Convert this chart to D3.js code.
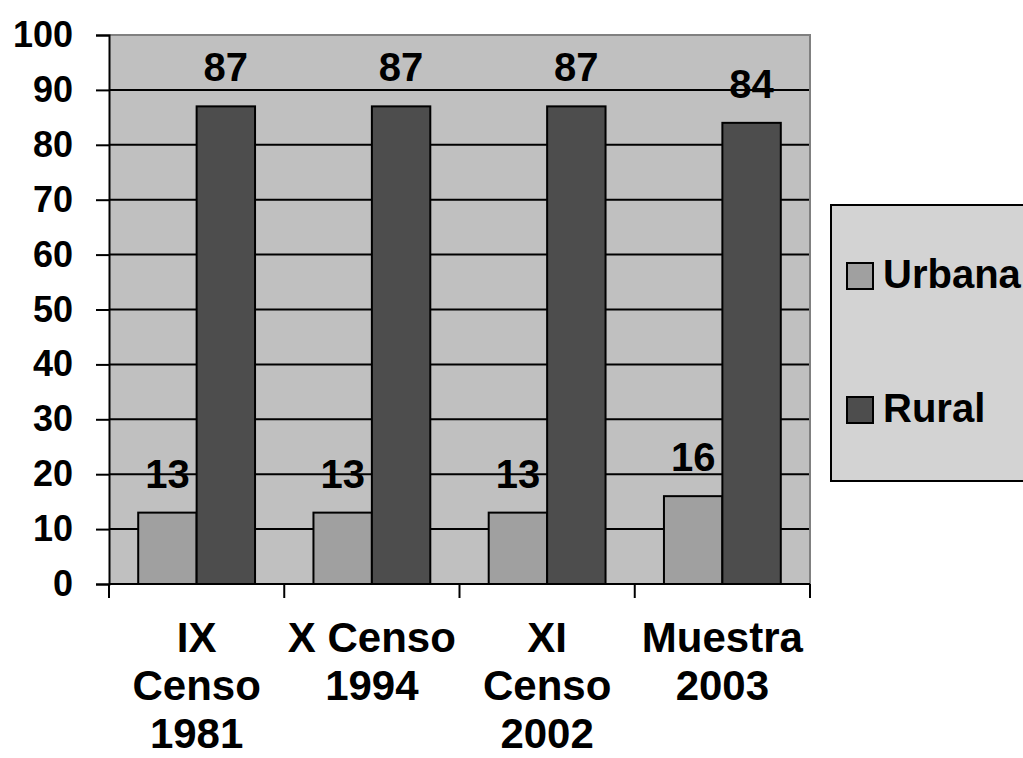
<!DOCTYPE html>
<html>
<head>
<meta charset="utf-8">
<script src="https://cdn.jsdelivr.net/npm/d3@7"></script>
<style>
  html, body { margin: 0; padding: 0; background: #ffffff; }
  svg { display: block; font-family: "Liberation Sans", Arial, sans-serif; font-weight: bold; }
</style>
</head>
<body>
<svg id="chart" width="1023" height="758"></svg>
<script>
// Population share (%) by area of residence
const categories = ["IX Censo 1981", "X Censo 1994", "XI Censo 2002", "Muestra 2003"];
const categoryLines = [["IX", "Censo", "1981"], ["X Censo", "1994"], ["XI", "Censo", "2002"], ["Muestra", "2003"]];
const seriesNames = ["Urbana", "Rural"];
const urbana = [13, 13, 13, 16];
const rural = [87, 87, 87, 84];
const yTicks = [0, 10, 20, 30, 40, 50, 60, 70, 80, 90, 100];

const colors = { Urbana: "#a0a0a0", Rural: "#4d4d4d" };
const seriesValues = { Urbana: urbana, Rural: rural };

const svg = d3.select("#chart");
const plot = { left: 109, right: 810, top: 35, bottom: 584 };

const x = d3.scaleBand().domain(categories).range([plot.left, plot.right]).paddingInner(0).paddingOuter(0);
const y = d3.scaleLinear().domain([0, 100]).range([plot.bottom, plot.top]);
const barW = x.bandwidth() / 3;
const xs = d3.scaleBand().domain(seriesNames).range([barW / 2, x.bandwidth() - barW / 2]);

// plot background
svg.append("rect")
  .attr("x", plot.left).attr("y", plot.top)
  .attr("width", plot.right - plot.left).attr("height", plot.bottom - plot.top)
  .attr("fill", "#c0c0c0");

// gridlines
svg.append("g").selectAll("line")
  .data(yTicks.filter(d => d > 0 && d < 100))
  .join("line")
  .attr("x1", plot.left).attr("x2", plot.right)
  .attr("y1", d => y(d)).attr("y2", d => y(d))
  .attr("stroke", "#000").attr("stroke-width", 2);

// top and right frame of the plot area
svg.append("path")
  .attr("d", `M${plot.left},${plot.top}H${plot.right}V${plot.bottom}`)
  .attr("fill", "none").attr("stroke", "#808080").attr("stroke-width", 2);

// bars
const groups = svg.append("g").selectAll("g")
  .data(categories)
  .join("g")
  .attr("transform", d => `translate(${x(d)},0)`);

seriesNames.forEach(name => {
  groups.append("rect")
    .attr("x", xs(name))
    .attr("width", xs.bandwidth())
    .attr("y", (d, i) => y(seriesValues[name][i]))
    .attr("height", (d, i) => y(0) - y(seriesValues[name][i]))
    .attr("fill", colors[name])
    .attr("stroke", "#000").attr("stroke-width", 2);
});

// value labels
seriesNames.forEach(name => {
  groups.append("text")
    .attr("x", xs(name) + xs.bandwidth() / 2)
    .attr("y", (d, i) => y(seriesValues[name][i]) - 25)
    .attr("text-anchor", "middle")
    .attr("font-size", 40)
    .attr("fill", "#000")
    .text((d, i) => seriesValues[name][i]);
});

// y axis
const yAxis = svg.append("g")
  .attr("transform", `translate(${plot.left},0)`)
  .call(d3.axisLeft(y).tickValues(yTicks).tickSize(13).tickPadding(23));
yAxis.select(".domain").attr("stroke", "#000").attr("stroke-width", 2);
yAxis.selectAll(".tick line").attr("stroke", "#000").attr("stroke-width", 2);
yAxis.selectAll(".tick text")
  .attr("font-size", 36).attr("font-weight", "bold")
  .attr("font-family", "Liberation Sans, Arial, sans-serif")
  .attr("fill", "#000");

// x axis with ticks between categories
const xAxisG = svg.append("g");
xAxisG.append("line")
  .attr("x1", plot.left).attr("x2", plot.right)
  .attr("y1", plot.bottom).attr("y2", plot.bottom)
  .attr("stroke", "#000").attr("stroke-width", 2);
const boundaries = categories.map(c => x(c)).concat([x(categories[categories.length - 1]) + x.bandwidth()]);
xAxisG.selectAll("line.tick")
  .data(boundaries)
  .join("line")
  .attr("class", "tick")
  .attr("x1", d => d).attr("x2", d => d)
  .attr("y1", plot.bottom).attr("y2", plot.bottom + 14)
  .attr("stroke", "#000").attr("stroke-width", 2);

// category labels
const catLabels = xAxisG.selectAll("text.cat")
  .data(categories)
  .join("text")
  .attr("class", "cat")
  .attr("text-anchor", "middle")
  .attr("font-size", 42)
  .attr("fill", "#000")
  .attr("x", d => x(d) + x.bandwidth() / 2)
  .attr("y", 652);
catLabels.each(function (d, i) {
  const t = d3.select(this);
  categoryLines[i].forEach((line, j) => {
    t.append("tspan")
      .attr("x", x(d) + x.bandwidth() / 2)
      .attr("dy", j === 0 ? 0 : 48)
      .text(line);
  });
});

// legend
const legend = svg.append("g");
legend.append("rect")
  .attr("x", 831).attr("y", 205)
  .attr("width", 220).attr("height", 276)
  .attr("fill", "#d3d3d3")
  .attr("stroke", "#000").attr("stroke-width", 2);
const legendY = { Urbana: 263, Rural: 397 };
seriesNames.forEach(name => {
  legend.append("rect")
    .attr("x", 847).attr("y", legendY[name])
    .attr("width", 26).attr("height", 26)
    .attr("fill", colors[name])
    .attr("stroke", "#000").attr("stroke-width", 2);
  legend.append("text")
    .attr("x", 883).attr("y", legendY[name] + 25)
    .attr("font-size", 40)
    .attr("fill", "#000")
    .text(name);
});
</script>
</body>
</html>
